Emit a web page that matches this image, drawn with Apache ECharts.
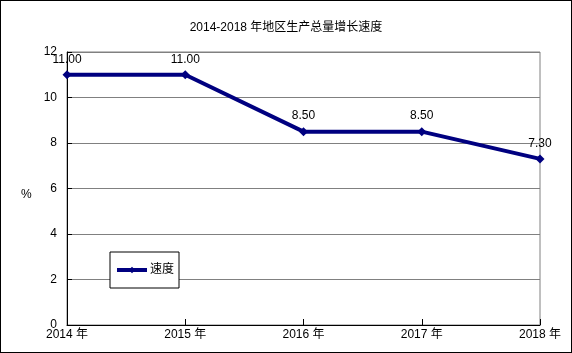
<!DOCTYPE html>
<html style="height: 100%">
<head>
<meta charset="utf-8">
<title>地区生产总量增长速度</title>
<script src="https://cdn.jsdelivr.net/npm/echarts@6/dist/echarts.min.js"></script>
<style>
  html, body { margin: 0; padding: 0; background: #fff; }
  #main { width: 572px; height: 353px; box-sizing: border-box; border: 1px solid #000; }
</style>
</head>
<body>
<div id="main"></div>
<script>
var years = ['2014 年', '2015 年', '2016 年', '2017 年', '2018 年'];
var speed = [11.00, 11.00, 8.50, 8.50, 7.30];
var yTicks = [0, 2, 4, 6, 8, 10, 12];

var chart = echarts.init(document.getElementById('main'));
var font = '"Liberation Sans", "Noto Sans CJK SC", sans-serif';

chart.setOption({
  backgroundColor: '#fff',
  animation: false,
  textStyle: { fontFamily: font },
  title: {
    text: '2014-2018 年地区生产总量增长速度',
    left: 'center',
    top: 16,
    textStyle: { fontSize: 12, fontWeight: 'normal', color: '#000', fontFamily: font }
  },
  graphic: [{
    type: 'text',
    left: 20,
    top: 188,
    style: { text: '%', fontSize: 12, fill: '#000', fontFamily: font }
  }],
  legend: {
    left: 109,
    top: 251,
    orient: 'vertical',
    backgroundColor: '#fff',
    borderColor: '#000',
    borderWidth: 1,
    borderRadius: 0,
    padding: [12, 5, 12, 5],
    itemWidth: 30,
    itemHeight: 8,
    itemGap: 2,
    lineStyle: { width: 4 },
    textStyle: { fontSize: 12, color: '#000', fontFamily: font, padding: [0, 0, 0, -2] },
    data: ['速度']
  },
  grid: { left: 66, right: 31, top: 51, bottom: 27, show: true, borderColor: '#808080', borderWidth: 1 },
  xAxis: {
    type: 'category',
    data: years,
    boundaryGap: false,
    axisLine: { lineStyle: { color: '#000', width: 1 } },
    axisTick: { inside: true, length: 6, lineStyle: { color: '#000' } },
    axisLabel: { color: '#000', fontSize: 12, margin: 4, fontFamily: font },
    splitLine: { show: false }
  },
  yAxis: {
    type: 'value',
    min: yTicks[0],
    max: yTicks[yTicks.length - 1],
    interval: 2,
    axisLine: { show: true, lineStyle: { color: '#000' } },
    axisTick: { show: true, inside: true, length: 5, lineStyle: { color: '#000' } },
    axisLabel: { color: '#000', fontSize: 12, margin: 10, fontFamily: font },
    splitLine: { lineStyle: { color: '#808080', width: 1 } }
  },
  series: [{
    name: '速度',
    type: 'line',
    data: speed,
    symbol: 'diamond',
    symbolSize: 9,
    lineStyle: { color: '#000080', width: 4 },
    itemStyle: { color: '#000080' },
    label: {
      show: true,
      position: 'top',
      distance: 5,
      color: '#000',
      fontSize: 12,
      fontFamily: font,
      formatter: function (p) { return p.value.toFixed(2); }
    }
  }]
});
</script>
</body>
</html>
